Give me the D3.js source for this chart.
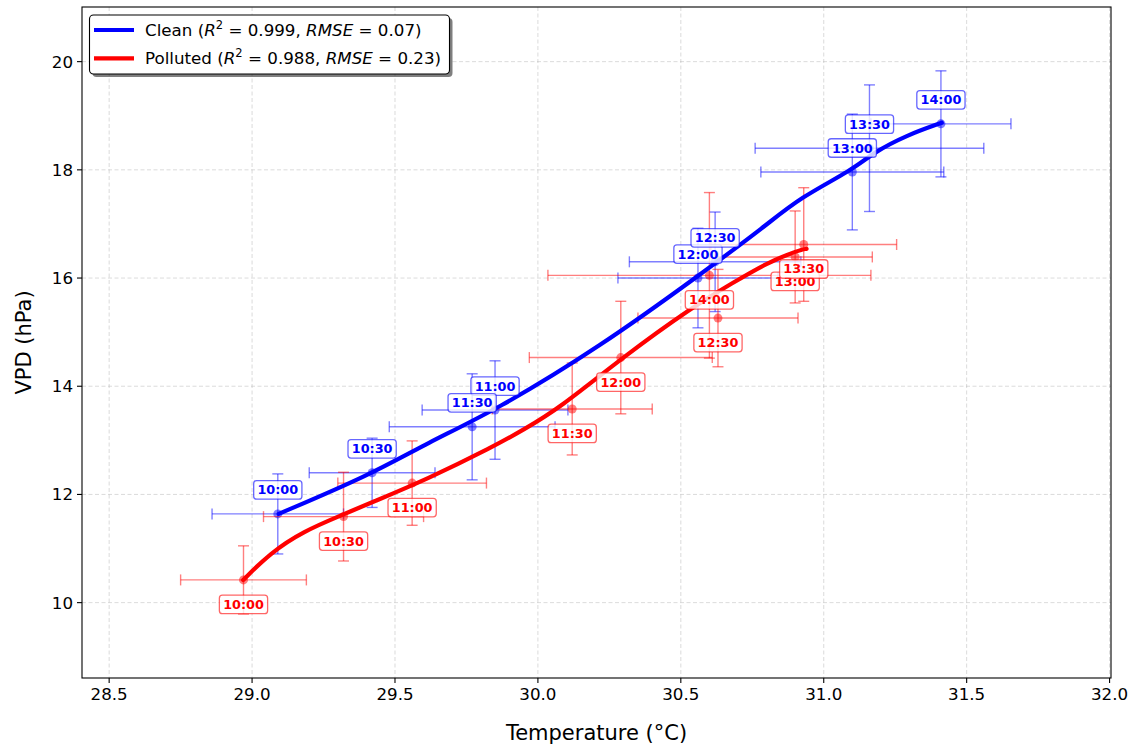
<!DOCTYPE html>
<html><head><meta charset="utf-8">
<script src="https://cdn.jsdelivr.net/npm/d3@7"></script>
<style>
html,body{margin:0;padding:0;background:#fff;}
svg{display:block;font-family:"DejaVu Sans",sans-serif;}
</style></head>
<body>
<svg id="chart" width="1131" height="745"></svg>
<script>
// ---- data ----
const times = ["10:00","10:30","11:00","11:30","12:00","12:30","13:00","13:30","14:00"];
const cleanT      = [29.09, 29.42, 29.85, 29.77, 30.56, 30.62, 31.10, 31.16, 31.41];
const cleanVPD    = [11.64, 12.40, 13.56, 13.25, 16.00, 16.30, 17.96, 18.40, 18.85];
const cleanTErr   = [0.23, 0.22, 0.255, 0.29, 0.28, 0.30, 0.32, 0.40, 0.245];
const cleanVPDErr = [0.74, 0.64, 0.91, 0.98, 0.92, 0.92, 1.07, 1.17, 0.98];
const pollT       = [28.97, 29.32, 29.56, 30.12, 30.29, 30.63, 30.90, 30.93, 30.60];
const pollVPD     = [10.42, 11.59, 12.21, 13.58, 14.53, 15.26, 16.39, 16.62, 16.05];
const pollTErr    = [0.22, 0.28, 0.26, 0.28, 0.32, 0.28, 0.27, 0.325, 0.565];
const pollVPDErr  = [0.63, 0.82, 0.78, 0.85, 1.04, 0.90, 0.85, 1.05, 1.53];
// fitted curves
const cleanFitT   = [29.093, 29.413, 29.612, 29.854, 30.217, 30.567, 30.80, 30.915, 31.101, 31.171, 31.29, 31.413];
const cleanFitV   = [11.64, 12.36, 12.95, 13.56, 14.73, 16.06, 16.98, 17.48, 18.00, 18.31, 18.64, 18.87];
const pollFitT    = [28.969, 29.064, 29.179, 29.319, 29.413, 29.612, 29.843, 29.948, 30.077, 30.294, 30.542, 30.682, 30.80, 30.915, 30.94];
const pollFitV    = [10.42, 10.92, 11.32, 11.63, 11.84, 12.28, 12.88, 13.19, 13.60, 14.525, 15.47, 15.91, 16.28, 16.52, 16.54];
const xTicks = [28.5, 29.0, 29.5, 30.0, 30.5, 31.0, 31.5, 32.0];
const yTicks = [10, 12, 14, 16, 18, 20];
const series = [
  {name:"Clean", r2:"0.999", rmse:"0.07", color:"#0000ff", T:cleanT, V:cleanVPD, TE:cleanTErr, VE:cleanVPDErr, fT:cleanFitT, fV:cleanFitV, off:-24},
  {name:"Polluted", r2:"0.988", rmse:"0.23", color:"#ff0000", T:pollT, V:pollVPD, TE:pollTErr, VE:pollVPDErr, fT:pollFitT, fV:pollFitV, off:24.5}
];

// ---- layout ----
const L=82, R=1111, T=7, B=678;
const svg = d3.select("#chart");
const x = d3.scaleLinear().domain([28.405, 32.005]).range([L, R]);
const y = d3.scaleLinear().domain([8.607, 21.01]).range([B, T]);

// grid
const grid = svg.append("g");
grid.selectAll(".gx").data(xTicks).enter().append("line")
  .attr("x1", d=>x(d)).attr("x2", d=>x(d)).attr("y1", T).attr("y2", B)
  .attr("stroke", "#b0b0b0").attr("stroke-opacity", 0.45).attr("stroke-width", 1).attr("stroke-dasharray", "4,2.5");
grid.selectAll(".gy").data(yTicks).enter().append("line")
  .attr("y1", d=>y(d)).attr("y2", d=>y(d)).attr("x1", L).attr("x2", R)
  .attr("stroke", "#b0b0b0").attr("stroke-opacity", 0.45).attr("stroke-width", 1).attr("stroke-dasharray", "4,2.5");

// error bars + markers
const cap = 5.5;
series.forEach(s => {
  const g = svg.append("g").attr("stroke", s.color).attr("stroke-opacity", 0.5).attr("stroke-width", 1.4).attr("fill","none");
  s.T.forEach((t,i) => {
    const cx = x(t), cy = y(s.V[i]);
    const x0 = x(t - s.TE[i]), x1 = x(t + s.TE[i]);
    const y0 = y(s.V[i] - s.VE[i]), y1 = y(s.V[i] + s.VE[i]);
    g.append("line").attr("x1", x0).attr("x2", x1).attr("y1", cy).attr("y2", cy);
    g.append("line").attr("x1", x0).attr("x2", x0).attr("y1", cy-cap).attr("y2", cy+cap);
    g.append("line").attr("x1", x1).attr("x2", x1).attr("y1", cy-cap).attr("y2", cy+cap);
    g.append("line").attr("x1", cx).attr("x2", cx).attr("y1", y0).attr("y2", y1);
    g.append("line").attr("x1", cx-cap).attr("x2", cx+cap).attr("y1", y0).attr("y2", y0);
    g.append("line").attr("x1", cx-cap).attr("x2", cx+cap).attr("y1", y1).attr("y2", y1);
  });
  svg.append("g").selectAll("circle").data(s.T).enter().append("circle")
    .attr("cx", d=>x(d)).attr("cy", (d,i)=>y(s.V[i])).attr("r", 4.5)
    .attr("fill", s.color).attr("fill-opacity", 0.5);
});

// fit curves
const line = d3.line().x(d=>x(d[0])).y(d=>y(d[1])).curve(d3.curveBasis);
series.forEach(s => {
  svg.append("path").datum(s.fT.map((t,i)=>[t, s.fV[i]]))
    .attr("d", line).attr("fill","none").attr("stroke", s.color).attr("stroke-width", 4.2)
    .attr("stroke-linecap","round");
});

// labels
series.forEach(s => {
  s.T.forEach((t,i) => {
    const cx = x(t), cy = y(s.V[i]) + s.off;
    const g = svg.append("g");
    const rect = g.append("rect");
    const txt = g.append("text").attr("x", cx).attr("y", cy).attr("text-anchor","middle")
      .attr("dominant-baseline","central").attr("font-size", 12.8).attr("font-weight","bold")
      .attr("fill", s.color).text(times[i]);
    const w = txt.node().getComputedTextLength() + 7.5;
    const h = 18.5;
    rect.attr("x", cx - w/2).attr("y", cy - h/2).attr("width", w).attr("height", h)
      .attr("rx", 3).attr("fill", "#fff").attr("fill-opacity", 0.8)
      .attr("stroke", s.color).attr("stroke-opacity", 0.6).attr("stroke-width", 1.3);
  });
});

// axes frame
svg.append("rect").attr("x", L).attr("y", T).attr("width", R-L).attr("height", B-T)
  .attr("fill","none").attr("stroke","#000").attr("stroke-width", 1.1);

// ticks
const ax = svg.append("g");
xTicks.forEach(v => {
  ax.append("line").attr("x1", x(v)).attr("x2", x(v)).attr("y1", B).attr("y2", B+5).attr("stroke","#000").attr("stroke-width",1.1);
  ax.append("text").attr("x", x(v)).attr("y", B+22).attr("text-anchor","middle").attr("font-size", 16.7).attr("fill","#000").text(v.toFixed(1));
});
yTicks.forEach(v => {
  ax.append("line").attr("x1", L-5).attr("x2", L).attr("y1", y(v)).attr("y2", y(v)).attr("stroke","#000").attr("stroke-width",1.1);
  ax.append("text").attr("x", L-9).attr("y", y(v)).attr("text-anchor","end").attr("dominant-baseline","central").attr("font-size", 16.7).attr("fill","#000").text(v);
});
svg.append("text").attr("x", (L+R)/2).attr("y", 740).attr("text-anchor","middle").attr("font-size", 21).text("Temperature (°C)");
svg.append("text").attr("transform", `translate(31,${(T+B)/2}) rotate(-90)`).attr("text-anchor","middle").attr("font-size", 21).text("VPD (hPa)");

// legend
const lg = svg.append("g");
const lx=89.5, ly=15, lw=360, lh=59;
lg.append("rect").attr("x", lx+3).attr("y", ly+3).attr("width", lw).attr("height", lh).attr("rx",4).attr("fill","#000").attr("fill-opacity",0.5);
lg.append("rect").attr("x", lx).attr("y", ly).attr("width", lw).attr("height", lh).attr("rx",4).attr("fill","#fff").attr("stroke","#000").attr("stroke-width",1.1);
series.forEach((s,i) => {
  const yy = 30 + i*28.3;
  lg.append("line").attr("x1", 94).attr("x2", 134).attr("y1", yy).attr("y2", yy).attr("stroke", s.color).attr("stroke-width", 4.2);
  const t = lg.append("text").attr("x", 145).attr("y", yy+6).attr("font-size", 16.7).attr("fill","#000");
  t.append("tspan").text(s.name + " (");
  t.append("tspan").attr("font-style","italic").text("R");
  t.append("tspan").attr("font-size", 11.5).attr("dy", -7).text("2");
  t.append("tspan").attr("dy", 7).text(" = " + s.r2 + ", ");
  t.append("tspan").attr("font-style","italic").text("RMSE");
  t.append("tspan").text(" = " + s.rmse + ")");
});
</script>
</body></html>
